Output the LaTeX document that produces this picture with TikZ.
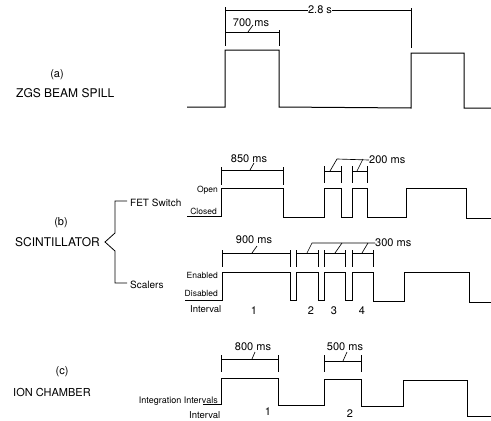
\documentclass[tikz,border=0pt]{standalone}
\usepackage{fontspec}
\setmainfont{TeX Gyre Heros}
\begin{document}
\begin{tikzpicture}[x=1pt,y=-1pt,line join=miter,
  wave/.style={line width=1pt},
  dim/.style={line width=0.65pt},
  big/.style={inner sep=0pt,font=\fontsize{12}{13}\selectfont},
  lab/.style={inner sep=0pt,font=\fontsize{11}{13}\selectfont},
  mid/.style={inner sep=0pt,font=\fontsize{10}{12}\selectfont},
  sml/.style={inner sep=0pt,font=\fontsize{8.5}{10}\selectfont},
  ivl/.style={inner sep=0pt,font=\fontsize{9.5}{11}\selectfont}]
\useasboundingbox (0,0) rectangle (491,421);

% ---------------- (a) ----------------
\node[lab] (alab) at (57,75) {(a)};
\node[big,anchor=west] (zgs) at (16,93) {ZGS BEAM SPILL};
\draw[wave] (187,107) -- (225,107) -- (225,50) -- (279,50) -- (279,107)
  -- (411,108) -- (411,53) -- (464,53) -- (464,108) -- (491,108);
\node[lab] (t28) at (320,10) {2.8 s};
\draw[dim] (225,7) -- (225,46);
\draw[dim] (411,8) -- (411,48);
\draw[dim] (225,10) -- (t28.west);
\draw[dim] (t28.east) -- (411,10);
\draw[dim] (225,32) -- (279,32);
\draw[dim] (279,30) -- (279,46);
\node[lab] (t700) at (251,23) {700 ms};
\draw[dim] (248,32) -- (253,25);

% ---------------- (b) ----------------
\node[lab] (blab) at (61,223) {(b)};
\node[big,anchor=west] (scint) at (15,242) {SCINTILLATOR};
\draw[dim,line width=0.8pt] (127,201) -- (115,201) -- (115,233) -- (105,242) -- (115,251) -- (115,283) -- (127,283);
\node[mid,anchor=west] (fet) at (130,203) {FET Switch};
\node[mid,anchor=west] (scal) at (130,285) {Scalers};

% FET switch trace
\node[sml,anchor=east] (open) at (218,190) {Open};
\node[sml,anchor=east] (closed) at (217,211) {Closed};
\draw[wave] (187,216) -- (221,216) -- (221,188) -- (283,188) -- (283,217)
  -- (324,217) -- (324,188) -- (341,188) -- (341,217)
  -- (352,217) -- (352,188) -- (367,188) -- (367,217)
  -- (406,217) -- (406,188) -- (466,188) -- (466,218) -- (491,218);
% 850 ms
\draw[dim] (221,167) -- (221,185);
\draw[dim] (283,167) -- (283,185);
\draw[dim] (221,170) -- (283,170);
\node[lab] (t850) at (249,159) {850 ms};
\draw[dim] (250,170) -- (254,163);
% 200 ms
\foreach \xx in {324,341,352,367} \draw[dim] (\xx,166) -- (\xx,183);
\draw[dim] (324,171) -- (341,171);
\draw[dim] (352,171) -- (367,171);
\node[lab,anchor=west] (t200) at (369,160) {200 ms};
\draw[dim] (330,171) -- (337,159) -- (t200.west);
\draw[dim] (357,171) -- (363,159);

% Scalers trace
\node[sml,anchor=east] (enab) at (218,275) {Enabled};
\node[sml,anchor=east] (disab) at (218,293) {Disabled};
\node[ivl,anchor=west] (ivb) at (190,309) {Interval};
\draw[wave] (185,300) -- (222,300) -- (222,272) -- (290,272) -- (290,300)
  -- (296,300) -- (296,272) -- (318,272) -- (318,300)
  -- (324,300) -- (324,272) -- (345,272) -- (345,300)
  -- (352,300) -- (352,272) -- (373,272) -- (373,301)
  -- (404,301) -- (404,272) -- (469,272) -- (469,302) -- (491,302);
% 900 ms
\draw[dim] (222,250) -- (222,267);
\draw[dim] (290,250) -- (290,267);
\draw[dim] (222,253) -- (290,253);
\node[lab] (t900) at (254,240) {900 ms};
\draw[dim] (252,253) -- (257,246);
% 300 ms
\foreach \xx in {296,318,324,345,352,373} \draw[dim] (\xx,250) -- (\xx,267);
\draw[dim] (296,253) -- (318,253);
\draw[dim] (324,253) -- (345,253);
\draw[dim] (352,253) -- (373,253);
\node[lab,anchor=west] (t300) at (375,243) {300 ms};
\draw[dim] (307,253) -- (312,243) -- (t300.west);
\draw[dim] (335,253) -- (342,243);
\draw[dim] (362,253) -- (368,243);
\node[lab] (n1) at (254,311) {1};
\node[lab] (n2) at (311,311) {2};
\node[lab] (n3) at (334,311) {3};
\node[lab] (n4) at (362,311) {4};

% ---------------- (c) ----------------
\node[lab] (clab) at (62,372) {(c)};
\node[lab,anchor=west] (ion) at (13,392) {ION CHAMBER};
\node[sml,anchor=east,font=\fontsize{9}{11}\selectfont] (integ) at (218,401) {Integration Intervals};
\node[ivl,anchor=west] (ivc) at (189,415) {Interval};
\draw[wave] (203,404) -- (221,404) -- (221,378) -- (278,378) -- (278,405)
  -- (324,405) -- (324,379) -- (361,379) -- (361,406)
  -- (403,406) -- (403,380) -- (467,380) -- (467,416) -- (491,416);
% 800 ms
\draw[dim] (221,355) -- (221,372);
\draw[dim] (278,355) -- (278,372);
\draw[dim] (221,359) -- (278,359);
\node[lab] (t800) at (253,347) {800 ms};
\draw[dim] (252,359) -- (255,352);
% 500 ms
\draw[dim] (324,355) -- (324,372);
\draw[dim] (361,355) -- (361,372);
\draw[dim] (324,361) -- (361,361);
\node[lab] (t500) at (345,347) {500 ms};
\draw[dim] (343,361) -- (347,352);
\node[lab] (c1) at (268,412) {1};
\node[lab] (c2) at (350,414) {2};
\end{tikzpicture}
\end{document}
